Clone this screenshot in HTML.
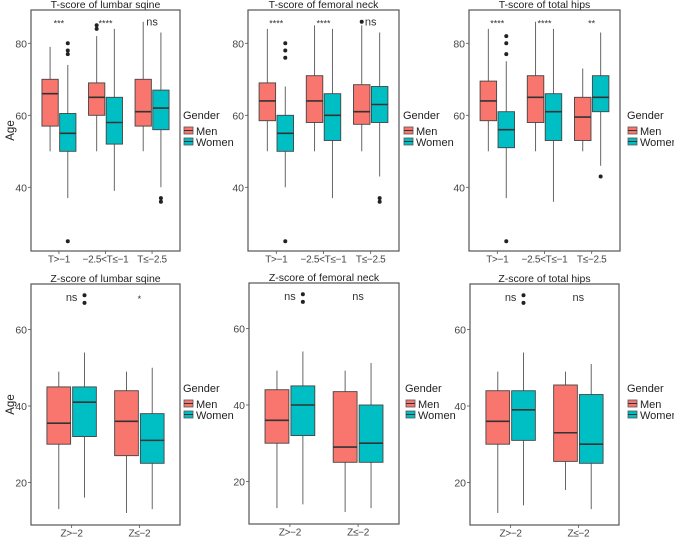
<!DOCTYPE html>
<html><head><meta charset="utf-8">
<style>
body{margin:0;background:#fff;}
svg{display:block;font-family:"Liberation Sans",Arial,sans-serif;}
</style></head>
<body>
<svg id="chart" width="674" height="538" viewBox="0 0 674 538" xmlns="http://www.w3.org/2000/svg"></svg>
<script>
// ---- data ----
const panelTitles = ["T-score of lumbar sqine","T-score of femoral neck","T-score of total hips","Z-score of lumbar sqine","Z-score of femoral neck","Z-score of total hips"];
const tCategories = ["T>−1","−2.5<T≤−1","T≤−2.5"];
const zCategories = ["Z>−2","Z≤−2"];
const genders = ["Men","Women"];
const tTicks = [40,60,80];
const zTicks = [20,40,60];
// stats per panel: [group][gender] = [lo,q1,med,q3,hi]
const lumbarT = [[[50,57,66,70,79],[37,50,55,60.5,74]],[[50,60,65,69,82],[39,52,58,65,84]],[[50,57,61,70,86],[40,56,62,67,83]]];
const femoralT = [[[50,58.5,64,69,84],[40,50,55,60,68]],[[50,58,64,71,85],[37,53,60,66,84]],[[50,57.5,61,68.5,85],[43,58,63,68,83]]];
const hipsT = [[[50,58.5,64,69.5,84],[37,51,56,61,75]],[[50,58,65,71,86],[36,53,61,66,84]],[[50,53,59.5,65,73],[46,61,65,71,83]]];
const lumbarZ = [[[13,30,35.5,45,49],[16,32,41,45,54]],[[12,27,36,44,49],[13,25,31,38,50]]];
const femoralZ = [[[13,30,36,44,49],[14,32,40,45,54]],[[12,25,29,43.5,49],[13,25,30,40,51]]];
const hipsZ = [[[12,30,36,44,49],[14,31,39,44,54]],[[18,25.5,33,45.5,49],[13,25,30,43,51]]];
// outliers per panel: [group][gender] = [values]
const lumbarTOut = [[[],[80,78,77,25]],[[85,84],[]],[[],[37,36]]];
const femoralTOut = [[[],[80,78,76,25]],[[],[]],[[86],[37,36]]];
const hipsTOut = [[[],[82,80,77,25]],[[],[]],[[],[43]]];
const lumbarZOut = [[[],[69,67]],[[],[]]];
const femoralZOut = [[[],[69,67]],[[],[]]];
const hipsZOut = [[[],[69,67]],[[],[]]];
const lumbarTSig = ["***","****","ns"];
const femoralTSig = ["****","****","ns"];
const hipsTSig = ["****","****","**"];
const lumbarZSig = ["ns","*"];
const femoralZSig = ["ns","ns"];
const hipsZSig = ["ns","ns"];

// ---- layout ----
const NS="http://www.w3.org/2000/svg";
const svg=document.getElementById('chart');
const fills=["#F8766D","#00BFC4"];
function mk(tag,attrs,parent){const e=document.createElementNS(NS,tag);for(const k in attrs)e.setAttribute(k,attrs[k]);(parent||svg).appendChild(e);return e;}

const panels=[
 {x0:31,x1:180,y0:10,y1:251,ref:60,refY:115.3,ppu:3.6,cats:tCategories,ticks:tTicks,stats:lumbarT,out:lumbarTOut,sig:lumbarTSig,sigV:86,legX:183,legY:119,yTitle:true},
 {x0:248,x1:399,y0:10,y1:251,ref:60,refY:115.3,ppu:3.6,cats:tCategories,ticks:tTicks,stats:femoralT,out:femoralTOut,sig:femoralTSig,sigV:86,legX:403,legY:119},
 {x0:469,x1:620,y0:10,y1:251,ref:60,refY:115.3,ppu:3.6,cats:tCategories,ticks:tTicks,stats:hipsT,out:hipsTOut,sig:hipsTSig,sigV:86,legX:627,legY:119},
 {x0:31,x1:180,y0:284,y1:525,ref:40,refY:406,ppu:3.82,cats:zCategories,ticks:zTicks,stats:lumbarZ,out:lumbarZOut,sig:lumbarZSig,sigV:68.5,legX:183,legY:392,yTitle:true},
 {x0:249,x1:399,y0:283,y1:524,ref:40,refY:405,ppu:3.82,cats:zCategories,ticks:zTicks,stats:femoralZ,out:femoralZOut,sig:femoralZSig,sigV:68.5,legX:405,legY:392},
 {x0:470,x1:619,y0:284,y1:525,ref:40,refY:406,ppu:3.82,cats:zCategories,ticks:zTicks,stats:hipsZ,out:hipsZOut,sig:hipsZSig,sigV:68.5,legX:627,legY:392}
];

panels.forEach((p,pi)=>{
  const g=mk('g',{});
  
  
  const y=v=>p.refY-(v-p.ref)*p.ppu;
  const n=p.cats.length, step=(p.x1-p.x0)/(n-1+1.2);
  const cx=i=>p.x0+(0.6+i)*step;
  const bw=0.35*step, off=0.19*step;
  const t=mk('text',{x:(p.x0+p.x1)/2,y:p.y0-2,'text-anchor':'middle','font-size':'10.5',fill:'#222'},g);
  t.textContent=panelTitles[pi];
  
  
  p.ticks.forEach(v=>{
    mk('line',{x1:p.x0-3,x2:p.x0,y1:y(v),y2:y(v),stroke:'#555','stroke-width':0.8},g);
    const tl=mk('text',{x:p.x0-4,y:y(v)+4,'text-anchor':'end','font-size':'10.5',fill:'#444'},g);
    tl.textContent=v;
    
    
  });
  if(p.yTitle){
    const yt=mk('text',{x:0,y:0,transform:`translate(14,${(p.y0+p.y1)/2}) rotate(-90)`,'text-anchor':'middle','font-size':'11.5',fill:'#222'},g);
    yt.textContent='Age';
    
    
  }
  p.cats.forEach((c,i)=>{
    mk('line',{x1:cx(i),x2:cx(i),y1:p.y1,y2:p.y1+3,stroke:'#555','stroke-width':0.8},g);
    const xl=mk('text',{x:cx(i),y:p.y1+11.5,'text-anchor':'middle','font-size':'10','letter-spacing':'-0.3',fill:'#444'},g);
    xl.textContent=c;
    
    
    const sg=mk('text',{x:cx(i),y:y(p.sigV)+(p.sig[i].indexOf('*')>=0?5:4),'text-anchor':'middle','font-size':p.sig[i].indexOf('*')>=0?'9':'11',fill:'#333'},g);
    sg.textContent=p.sig[i];
    
    
    [0,1].forEach(k=>{
      const s=p.stats[i][k], bx=cx(i)+(k?off:-off);
      const bg=mk('g',{},g);
      
      
      mk('line',{x1:bx,x2:bx,y1:y(s[0]),y2:y(s[4]),stroke:'#666','stroke-width':1},bg);
      mk('rect',{x:bx-bw/2,y:y(s[3]),width:bw,height:y(s[1])-y(s[3]),fill:fills[k],stroke:'#444','stroke-width':0.9},bg);
      mk('line',{x1:bx-bw/2,x2:bx+bw/2,y1:y(s[2]),y2:y(s[2]),stroke:'#333','stroke-width':1.6},bg);
      p.out[i][k].forEach(v=>{
        const c2=mk('circle',{cx:bx,cy:y(v),r:2,fill:'#222'},bg);
        
        
      });
    });
  });
  const fr=mk('rect',{x:p.x0,y:p.y0,width:p.x1-p.x0,height:p.y1-p.y0,fill:'none',stroke:'#555','stroke-width':1.2},g);
  
  
  const lg=mk('g',{},g);
  
  
  const lt=mk('text',{x:p.legX,y:p.legY,'font-size':'11',fill:'#222'},lg);
  lt.textContent='Gender';
  genders.forEach((gn,k)=>{
    const ky=p.legY+8+k*11;
    const e=mk('g',{},lg);
    
    
    mk('rect',{x:p.legX+1,y:ky,width:9,height:7,fill:fills[k],stroke:'#555','stroke-width':0.8},e);
    mk('line',{x1:p.legX+1,x2:p.legX+10,y1:ky+3.5,y2:ky+3.5,stroke:'#333','stroke-width':1},e);
    const et=mk('text',{x:p.legX+13,y:ky+8,'font-size':'11',fill:'#222'},e);
    et.textContent=gn;
  });
});
</script>
</body></html>
